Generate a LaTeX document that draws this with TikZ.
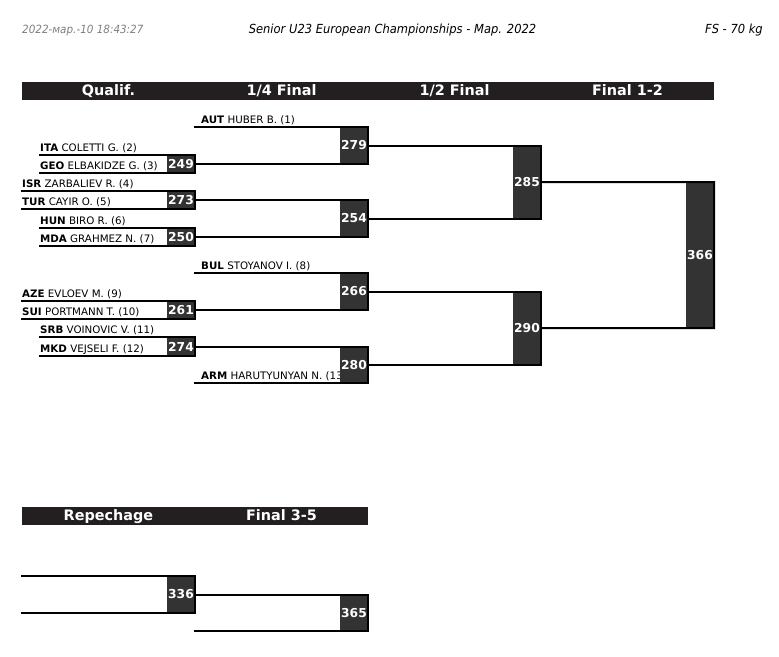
\documentclass[tikz,border=0pt]{standalone}
\usepackage{fontspec}
\setmainfont{DejaVu Sans}
\newfontfamily\hdrfont{DejaVu Sans}[FakeStretch=0.92]
\definecolor{barcol}{HTML}{231F20}
\definecolor{boxcol}{HTML}{333333}
\definecolor{dategray}{HTML}{7F7F7F}
\tikzset{
  ln/.style={line width=2pt, line cap=rect},
  mbox/.style={fill=boxcol, inner sep=0pt, outer sep=0pt, minimum width=28pt, text=white, font=\fontsize{12.3}{12.3}\selectfont\bfseries},
  hdr/.style={fill=barcol, inner sep=0pt, outer sep=0pt, minimum width=173.6pt, minimum height=17.5pt, text height=11.6pt, text depth=2.4pt, text=white, font=\fontsize{14.4}{14.4}\selectfont\bfseries},
  nm/.style={anchor=base west, inner sep=0pt, font=\fontsize{10.3}{10.3}\selectfont},
  top/.style={font=\hdrfont\itshape\fontsize{12.5}{12.5}\selectfont, inner sep=0pt},
}
\begin{document}
\begin{tikzpicture}[x=1pt, y=-1pt]
\useasboundingbox (0,0) rectangle (779,656);
% page header
\node[top, anchor=west, text=dategray, font=\hdrfont\itshape\fontsize{11.3}{11.3}\selectfont] (date) at (22,30) {2022-мар.-10 18:43:27};
\node[top] (title) at (392.5,30) {Senior U23 European Championships - Мар. 2022};
\node[top, anchor=east] (cat) at (763,30) {FS - 70 kg};
% column headers
\node[hdr] (hq) at (108.5,91) {Qualif.};
\node[hdr] (h4) at (281.5,91) {1/4 Final};
\node[hdr] (h2) at (454.5,91) {1/2 Final};
\node[hdr] (h1) at (627.5,91) {Final 1-2};
\node[hdr] (hr) at (108.5,516) {Repechage};
\node[hdr] (h35) at (281.5,516) {Final 3-5};
% names
\node[nm] (n1) at (201,123) {\textbf{AUT} HUBER B. (1)};
\node[nm] (n2) at (40,151) {\textbf{ITA} COLETTI G. (2)};
\node[nm] (n3) at (40,169) {\textbf{GEO} ELBAKIDZE G. (3)};
\node[nm] (n4) at (22,187) {\textbf{ISR} ZARBALIEV R. (4)};
\node[nm] (n5) at (22,205) {\textbf{TUR} CAYIR O. (5)};
\node[nm] (n6) at (40,224) {\textbf{HUN} BIRO R. (6)};
\node[nm] (n7) at (40,242) {\textbf{MDA} GRAHMEZ N. (7)};
\node[nm] (n8) at (201,269) {\textbf{BUL} STOYANOV I. (8)};
\node[nm] (n9) at (22,297) {\textbf{AZE} EVLOEV M. (9)};
\node[nm] (n10) at (22,315) {\textbf{SUI} PORTMANN T. (10)};
\node[nm] (n11) at (40,333) {\textbf{SRB} VOINOVIC V. (11)};
\node[nm] (n12) at (40,352) {\textbf{MKD} VEJSELI F. (12)};
\node[nm] (n13) at (201,379) {\textbf{ARM} HARUTYUNYAN N. (13)};
% line start points
\coordinate (p1) at (195,127);
\coordinate (p2) at (40,155);
\coordinate (p3) at (40,173);
\coordinate (p4) at (22,191);
\coordinate (p5) at (22,209);
\coordinate (p6) at (40,228);
\coordinate (p7) at (40,246);
\coordinate (p8) at (195,273);
\coordinate (p9) at (22,301);
\coordinate (p10) at (22,319);
\coordinate (p11) at (40,337);
\coordinate (p12) at (40,356);
\coordinate (p13) at (195,383);
\coordinate (r1) at (22,576);
\coordinate (r2) at (22,613);
% match boxes
\node[mbox, minimum height=18pt] (m249) at (181,164) {249};
\node[mbox, minimum height=18pt] (m273) at (181,200) {273};
\node[mbox, minimum height=18pt] (m250) at (181,237) {250};
\node[mbox, minimum height=18pt] (m261) at (181,310) {261};
\node[mbox, minimum height=19pt] (m274) at (181,346.5) {274};
\node[mbox, minimum height=37pt] (m279) at (354,145.5) {279};
\node[mbox, minimum height=37pt] (m254) at (354,218.5) {254};
\node[mbox, minimum height=37pt] (m266) at (354,291.5) {266};
\node[mbox, minimum height=36.5pt] (m280) at (354,364.75) {280};
\node[mbox, minimum height=73pt] (m285) at (527,182) {285};
\node[mbox, minimum height=73.25pt] (m290) at (527,328.125) {290};
\node[mbox, minimum height=146.125pt] (m366) at (700,255.06) {366};
\node[mbox, minimum height=37pt] (m336) at (181,594.5) {336};
\node[mbox, minimum height=36.5pt] (m365) at (354,612.75) {365};
% qualification
\draw[ln] (p2) -- (m249.north east) -- (m249.south east) -- (p3);
\draw[ln] (p4) -- (m273.north east) -- (m273.south east) -- (p5);
\draw[ln] (p6) -- (m250.north east) -- (m250.south east) -- (p7);
\draw[ln] (p9) -- (m261.north east) -- (m261.south east) -- (p10);
\draw[ln] (p11) -- (m274.north east) -- (m274.south east) -- (p12);
% quarter finals
\draw[ln] (p1) -- (m279.north east) -- (m279.south east) -- (m249.east);
\draw[ln] (m273.east) -- (m254.north east) -- (m254.south east) -- (m250.east);
\draw[ln] (p8) -- (m266.north east) -- (m266.south east) -- (m261.east);
\draw[ln] (m274.east) -- (m280.north east) -- (m280.south east) -- (p13);
% semi finals
\draw[ln] (m279.east) -- (m285.north east) -- (m285.south east) -- (m254.east);
\draw[ln] (m266.east) -- (m290.north east) -- (m290.south east) -- (m280.east);
% final
\draw[ln] (m285.east) -- (m366.north east) -- (m366.south east) -- (m290.east);
% repechage
\draw[ln] (r1) -- (m336.north east) -- (m336.south east) -- (r2);
\draw[ln] (m336.east) -- (m365.north east) -- (m365.south east) -- (m365.south east -| m336.east);
\end{tikzpicture}
\end{document}
